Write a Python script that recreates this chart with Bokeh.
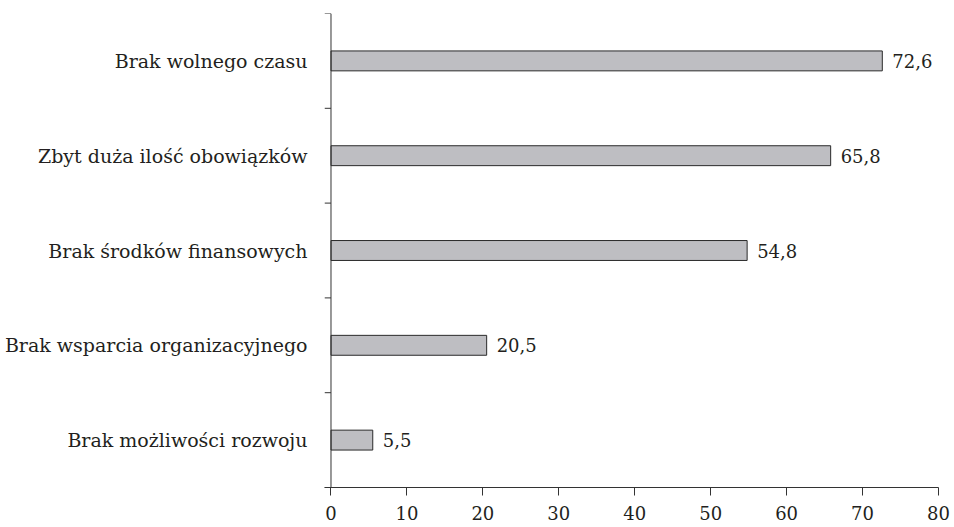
from bokeh.plotting import figure
from bokeh.models import FixedTicker, Range1d, Span, ColumnDataSource
from bokeh.core.properties import value
from bokeh.embed import file_html
from bokeh.resources import INLINE

categories = ["Brak możliwości rozwoju", "Brak wsparcia organizacyjnego",
              "Brak środków finansowych", "Zbyt duża ilość obowiązków",
              "Brak wolnego czasu"]
values = [5.5, 20.5, 54.8, 65.8, 72.6]
x_ticks = [0, 10, 20, 30, 40, 50, 60, 70, 80]

FONT = "DejaVu Serif"
TXT = "#231f20"
AX = "#333333"
X_START = -0.855

positions = [i + 0.5 for i in range(len(categories))]
boundaries = [float(i) for i in range(len(categories) + 1)]
labels = [("%.1f" % v).replace(".", ",") for v in values]

src = ColumnDataSource(dict(y=positions, v=values, lab=labels))

p = figure(width=954, height=527, output_backend="svg", toolbar_location=None,
           x_range=Range1d(X_START, 80), y_range=Range1d(0, 5),
           min_border_left=324, min_border_right=16, min_border_top=13,
           min_border_bottom=40)
p.outline_line_color = None
p.xgrid.visible = False
p.ygrid.visible = False
p.background_fill_color = "white"

p.hbar(y="y", left=0, right="v", height=0.21, source=src,
       fill_color="#bebec2", line_color="#2a2a2a", line_width=1)

p.text(x="v", y="y", text="lab", source=src, x_offset=10,
       text_baseline="middle", text_align="left",
       text_font=value(FONT), text_font_size="18px", text_color=TXT)

# y axis line at x = 0 and boundary ticks
p.add_layout(Span(location=0, dimension="height", line_color=AX, line_width=1))
p.segment(x0=[X_START] * len(boundaries), x1=[0] * len(boundaries),
          y0=boundaries, y1=boundaries, line_color=AX, line_width=1)

xa = p.xaxis[0]
xa.ticker = FixedTicker(ticks=x_ticks, minor_ticks=[])
xa.axis_line_color = AX
xa.major_tick_line_color = AX
xa.major_tick_out = 8
xa.major_tick_in = 0
xa.major_label_standoff = 10
xa.major_label_text_font = FONT
xa.major_label_text_font_size = "18px"
xa.major_label_text_color = TXT

ya = p.yaxis[0]
ya.ticker = FixedTicker(ticks=positions, minor_ticks=[])
ya.major_label_overrides = {pos: c for pos, c in zip(positions, categories)}
ya.axis_line_color = None
ya.major_tick_out = 0
ya.major_tick_in = 0
ya.minor_tick_out = 0
ya.minor_tick_in = 0
ya.major_label_standoff = 17
ya.major_label_text_font = FONT
ya.major_label_text_font_size = "19px"
ya.major_label_text_color = TXT

open("out.html", "w").write(file_html(p, INLINE))
